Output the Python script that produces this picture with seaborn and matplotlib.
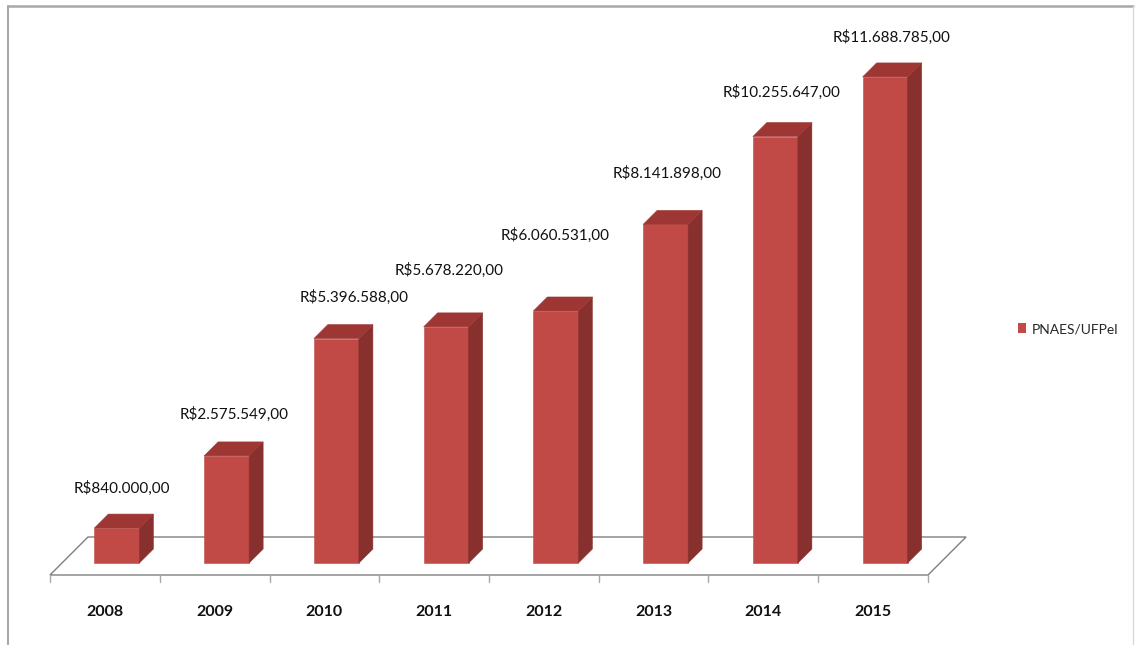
import matplotlib
matplotlib.use("Agg")
import matplotlib.pyplot as plt
import seaborn as sns
import numpy as np
import pandas as pd
from matplotlib.patches import Polygon, Patch
from matplotlib.lines import Line2D

# ---------------- data ----------------
years = ["2008", "2009", "2010", "2011", "2012", "2013", "2014", "2015"]
values = [840000, 2575549, 5396588, 5678220, 6060531, 8141898, 10255647, 11688785]
series_name = "PNAES/UFPel"

# label placement tweaks (pixels): horizontal nudge, gap above bar top
label_dx_px = [-2, 1, 11, -4, -8, -5, -1, -1]
label_gap_px = [26, 28, 27, 43, 62, 37, 30, 26]

# ---------------- style ----------------
sns.set_style("white")
plt.rcParams["font.family"] = ["Lato", "DejaVu Sans"]

FRONT = "#C24A46"
SIDE = "#88302D"
TOP = "#9E3734"
FLOOR_EDGE = "#7F7F7F"

W, H, DPI = 1140, 645, 100
fig = plt.figure(figsize=(W / DPI, H / DPI), dpi=DPI)

YMAX = 13e6
plot_h_px = 540.6
ax = fig.add_axes([62 / W, (H - 563) / H, 878 / W, plot_h_px / H])

df = pd.DataFrame({"year": years, "value": values})
sns.barplot(data=df, x="year", y="value", width=0.41, color=FRONT,
            saturation=1, edgecolor=FRONT, linewidth=0.4, ax=ax, zorder=3)
ax.set_xlim(-0.5, len(years) - 0.5)
ax.set_ylim(0, YMAX)
ax.set_axis_off()

# pixel -> data conversion
px_x = (len(years)) / 878.0          # data units per pixel (x)
px_y = YMAX / plot_h_px              # data units per pixel (y)

DEPTH = 14  # bar depth in px (oblique 45deg)

# ---------------- floor ----------------
f_front, f_back = -12, 26
x0, x1 = -0.5, len(years) - 0.5
floor = [
    (x0 + f_front * px_x, f_front * px_y),
    (x1 + f_front * px_x, f_front * px_y),
    (x1 + f_back * px_x, f_back * px_y),
    (x0 + f_back * px_x, f_back * px_y),
]
ax.add_patch(Polygon(floor, closed=True, facecolor="white", edgecolor=FLOOR_EDGE,
                     linewidth=1.0, clip_on=False, zorder=1))
# ticks on the front edge
for b in np.arange(-0.5, len(years), 1.0):
    bx = b + f_front * px_x
    ax.plot([bx, bx], [f_front * px_y, (f_front - 7) * px_y], color="#A8A8A8",
            lw=1.0, clip_on=False, zorder=1)

# ---------------- 3D faces ----------------
dx, dy = DEPTH * px_x, DEPTH * px_y
for i, p in enumerate(ax.patches[: len(years)]):
    x, w, h = p.get_x(), p.get_width(), p.get_height()
    side = [(x + w, 0), (x + w + dx, dy), (x + w + dx, h + dy), (x + w, h)]
    top = [(x, h), (x + w, h), (x + w + dx, h + dy), (x + dx, h + dy)]
    ax.add_patch(Polygon(side, closed=True, facecolor=SIDE, edgecolor=SIDE,
                         linewidth=0.4, clip_on=False, zorder=3))
    ax.add_patch(Polygon(top, closed=True, facecolor=TOP, edgecolor=TOP,
                         linewidth=0.4, clip_on=False, zorder=3))
    p.set_clip_on(False)
    # value label
    v = values[i]
    txt = "R$" + f"{v:,.2f}".replace(",", "X").replace(".", ",").replace("X", ".")
    lx = x + w / 2 + dx / 2 + label_dx_px[i] * px_x
    ly = h + dy + label_gap_px[i] * px_y
    ax.text(lx, ly, txt, ha="center", va="center", fontsize=11, color="#111111",
            clip_on=False, zorder=5)
    # category label
    ax.text(i + f_front * px_x, (f_front - 37) * px_y, years[i], ha="center",
            va="center", fontsize=11.5, fontweight="bold", color="#111111",
            clip_on=False)

# ---------------- legend ----------------
fig.legend(handles=[Patch(facecolor=FRONT, edgecolor="none")], labels=[series_name],
           loc="center left", bbox_to_anchor=(1011 / W, (H - 329) / H),
           frameon=False, handlelength=0.55, handleheight=0.75,
           handletextpad=0.45, borderpad=0, fontsize=10)

# ---------------- outer frame ----------------
fr = "#A8A8A8"
fig.add_artist(Line2D([8 / W, 1133 / W], [(H - 6) / H, (H - 6) / H], color=fr, lw=1.8,
                      transform=fig.transFigure))
fig.add_artist(Line2D([8 / W, 8 / W], [(H - 6) / H, 0], color=fr, lw=1.5,
                      transform=fig.transFigure))
fig.add_artist(Line2D([1133 / W, 1133 / W], [(H - 6) / H, 0], color="#D8D8D8", lw=1.0,
                      transform=fig.transFigure))

fig.savefig("out.png", dpi=DPI)
